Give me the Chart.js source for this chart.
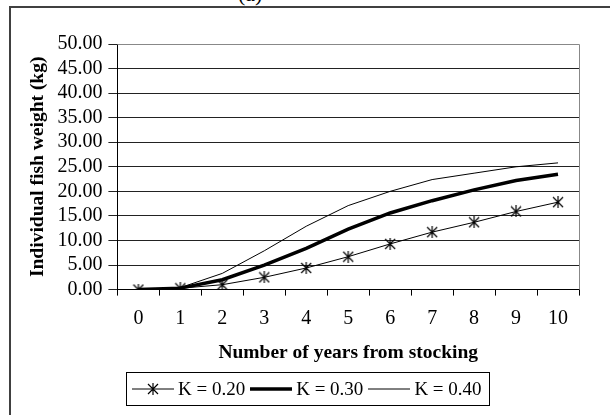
<!DOCTYPE html>
<html>
<head>
<meta charset="utf-8">
<script src="https://cdn.jsdelivr.net/npm/chart.js@4/dist/chart.umd.min.js"></script>
<style>
  html, body { margin: 0; padding: 0; background: #fff; overflow: hidden; }
  #wrap { position: relative; width: 610px; height: 415px; overflow: hidden; font-family: "Liberation Serif", serif; }
  #frame { position: absolute; left: 9px; top: 6px; width: 700px; height: 500px; border: 2px solid #404040; box-sizing: border-box; }
  #panel { position: absolute; left: 238px; top: -19px; font-size: 22px; }
  #chart { position: absolute; left: 0; top: 0; }
  #legend { position: absolute; left: 126px; top: 372px; width: 364px; height: 34px; border: 1px solid #000; box-sizing: border-box;
            display: flex; align-items: center; font-size: 19px; color: #000; }
  .item { display: flex; align-items: center; margin-left: 5px; }
  .item svg { margin-right: 4px; }
</style>
</head>
<body>
<div id="wrap">
  <div id="frame"></div>
  <div id="panel">(a)</div>
  <canvas id="chart" width="610" height="415"></canvas>
  <div id="legend"></div>
</div>
<script>
document.addEventListener("DOMContentLoaded", () => {

  // ===========================
  // DATOS
  // ===========================
  const years = ["0", "1", "2", "3", "4", "5", "6", "7", "8", "9", "10"];
  const k020 = [0, 0.27, 1.0, 2.5, 4.4, 6.7, 9.3, 11.7, 13.7, 15.9, 17.8];
  const k030 = [0, 0.3, 2.0, 5.0, 8.4, 12.3, 15.6, 18.1, 20.3, 22.2, 23.5];
  const k040 = [0, 0.4, 3.3, 7.9, 12.9, 17.1, 20.0, 22.4, 23.7, 25.0, 25.8];
  const seriesNames = ["K = 0.20", "K = 0.30", "K = 0.40"];

  // marcador tipo asterisco (X + vertical)
  function starMarker(r) {
    const c = document.createElement("canvas");
    c.width = c.height = r * 2 + 2;
    const g = c.getContext("2d");
    const m = r + 1;
    g.strokeStyle = "#000";
    g.lineWidth = 1.2;
    g.beginPath();
    g.moveTo(m - r, m - r); g.lineTo(m + r, m + r);
    g.moveTo(m + r, m - r); g.lineTo(m - r, m + r);
    g.moveTo(m, m - r - 1); g.lineTo(m, m + r + 1);
    g.stroke();
    return c;
  }
  const star = starMarker(5);

  // borde del area del grafico
  const plotBorder = {
    id: "plotBorder",
    afterDraw(chart) {
      const { ctx, chartArea: a } = chart;
      ctx.save();
      ctx.strokeStyle = "#888";
      ctx.lineWidth = 1;
      ctx.beginPath();
      ctx.moveTo(a.left, a.top + 0.5);
      ctx.lineTo(a.right + 0.5, a.top + 0.5);
      ctx.lineTo(a.right + 0.5, a.bottom);
      ctx.stroke();
      ctx.restore();
    }
  };

  const font = { family: "Liberation Serif", size: 20 };
  const bold = { family: "Liberation Serif", size: 19.5, weight: "bold" };

  new Chart(document.getElementById("chart"), {
    type: "line",
    data: {
      labels: years,
      datasets: [
        { label: seriesNames[0], data: k020, borderColor: "#000", borderWidth: 1,
          pointStyle: star, pointRadius: 5, tension: 0 },
        { label: seriesNames[1], data: k030, borderColor: "#000", borderWidth: 3.5,
          pointRadius: 0, tension: 0 },
        { label: seriesNames[2], data: k040, borderColor: "#000", borderWidth: 1,
          pointRadius: 0, tension: 0 }
      ]
    },
    options: {
      responsive: false,
      animation: false,
      layout: { padding: { top: 44, right: 31, bottom: 50, left: 26 } },
      plugins: { legend: { display: false }, tooltip: { enabled: false } },
      scales: {
        x: {
          type: "category",
          offset: true,
          grid: { offset: true, drawOnChartArea: false, drawTicks: true, tickLength: 6, color: "#000" },
          border: { color: "#000", width: 1 },
          ticks: { color: "#000", font: font, padding: 11, maxRotation: 0, autoSkip: false },
          title: { display: true, text: "Number of years from stocking", color: "#000", font: bold,
                   padding: { top: 0, bottom: 0 } }
        },
        y: {
          min: 0, max: 50,
          grid: { color: "#222", lineWidth: 1, tickLength: 9 },
          border: { color: "#000", width: 1 },
          ticks: { stepSize: 5, color: "#000", font: font, padding: 6, autoSkip: false,
                   callback: v => v.toFixed(2) },
          title: { display: true, text: "Individual fish weight (kg)", color: "#000", font: bold,
                   padding: { top: 0, bottom: 2 } }
        }
      }
    },
    plugins: [plotBorder]
  });

  // ===========================
  // LEYENDA
  // ===========================
  const samples = [
    `<svg width="42" height="12"><line x1="0" y1="6" x2="42" y2="6" stroke="#000" stroke-width="1"/>
      <path d="M16 1 L26 11 M26 1 L16 11 M21 0 L21 12" stroke="#000" stroke-width="1.2"/></svg>`,
    `<svg width="42" height="12"><line x1="0" y1="6" x2="42" y2="6" stroke="#000" stroke-width="3.5"/></svg>`,
    `<svg width="42" height="12"><line x1="0" y1="6" x2="42" y2="6" stroke="#000" stroke-width="1"/></svg>`
  ];
  document.getElementById("legend").innerHTML = seriesNames.map((n, i) =>
    `<div class="item">${samples[i]}<span>${n}</span></div>`).join("");
});
</script>
</body>
</html>
